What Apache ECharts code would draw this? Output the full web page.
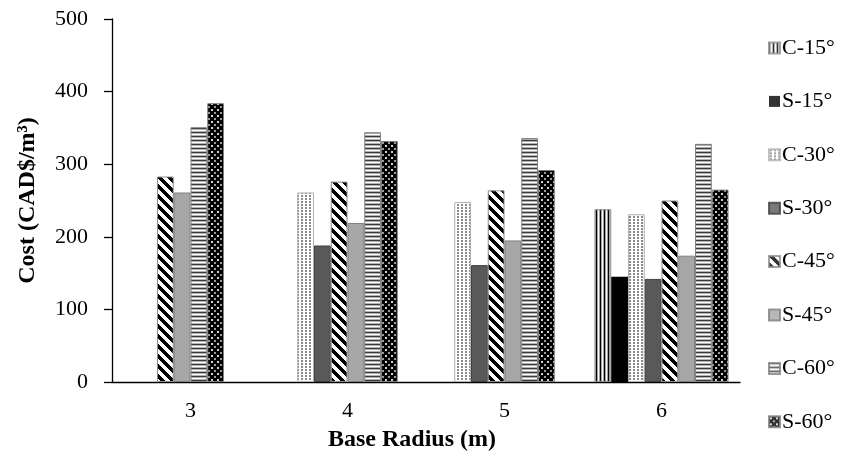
<!DOCTYPE html>
<html>
<head>
<meta charset="utf-8">
<script src="https://cdn.jsdelivr.net/npm/echarts@6/dist/echarts.min.js"></script>
<style>
html,body{margin:0;padding:0;background:#fff;}
#chart{width:865px;height:470px;}
</style>
</head>
<body>
<div id="chart"></div>
<script>
// ---- Data ----
var categories = ['3', '4', '5', '6'];
var seriesNames = ['C-15°', 'S-15°', 'C-30°', 'S-30°', 'C-45°', 'S-45°', 'C-60°', 'S-60°'];
var c15 = [null, null, null, 238];
var s15 = [null, null, null, 145];
var c30 = [null, 261, 248, 231];
var s30 = [null, 188, 161, 142];
var c45 = [283, 276, 264, 250];
var s45 = [261, 219, 195, 174];
var c60 = [351, 344, 336, 328];
var s60 = [384, 332, 292, 265];
var yTicks = [0, 100, 200, 300, 400, 500];

var seriesValues = [c15, s15, c30, s30, c45, s45, c60, s60];

// ---- Patterns ----
function tile(w, h, painter) {
  var c = document.createElement('canvas');
  c.width = w; c.height = h;
  var ctx = c.getContext('2d');
  painter(ctx, w, h);
  return { image: c, repeat: 'repeat' };
}
function px(ctx, x, y, col, w, h) { ctx.fillStyle = col; ctx.fillRect(x, y, w || 1, h || 1); }

var patC15 = tile(4, 1, function (ctx) {
  px(ctx, 0, 0, '#000'); px(ctx, 1, 0, '#a0a0a0'); px(ctx, 2, 0, '#ffffff'); px(ctx, 3, 0, '#a0a0a0');
});
var patC30 = tile(4, 3, function (ctx) {
  px(ctx, 0, 0, '#ffffff', 4, 3);
  px(ctx, 1, 0, '#8a8a8a', 2, 2);
});
var patC45 = tile(10, 10, function (ctx) {
  for (var y = 0; y < 10; y++) for (var x = 0; x < 10; x++) {
    var d = ((x - y) % 10 + 10) % 10;
    px(ctx, x, y, d < 5 ? '#000' : '#fff');
  }
});
var patC60 = tile(1, 4, function (ctx) {
  px(ctx, 0, 0, '#3a3a3a'); px(ctx, 0, 1, '#b0b0b0'); px(ctx, 0, 2, '#ffffff'); px(ctx, 0, 3, '#b0b0b0');
});
var patS60 = tile(6, 6, function (ctx) {
  px(ctx, 0, 0, '#000', 6, 6);
  px(ctx, 1, 1, '#d0d0d0', 2, 2);
  px(ctx, 4, 4, '#9a9a9a', 2, 2);
});

var styles = [
  { color: patC15, borderColor: '#8c8c8c', borderWidth: 1 },
  { color: '#000000', borderColor: '#000000', borderWidth: 0 },
  { color: patC30, borderColor: '#b0b0b0', borderWidth: 1 },
  { color: '#595959', borderColor: '#404040', borderWidth: 1 },
  { color: patC45, borderColor: '#8c8c8c', borderWidth: 1 },
  { color: '#a6a6a6', borderColor: '#808080', borderWidth: 1 },
  { color: patC60, borderColor: '#808080', borderWidth: 1 },
  { color: patS60, borderColor: '#7f7f7f', borderWidth: 1 }
];

// Build slot series: bars of each category are centred within the group.
var nSlots = seriesNames.length;
var slotData = [];
for (var s = 0; s < nSlots; s++) slotData.push(categories.map(function () { return null; }));
categories.forEach(function (cat, ci) {
  var present = [];
  seriesValues.forEach(function (arr, si) { if (arr[ci] != null) present.push(si); });
  var offset = Math.floor((nSlots - present.length) / 2);
  present.forEach(function (si, k) {
    slotData[offset + k][ci] = { value: seriesValues[si][ci], itemStyle: styles[si] };
  });
});

var serif = 'Liberation Serif';
var series = [];
slotData.forEach(function (d, k) {
  series.push({
    type: 'bar', name: 'slot' + k, data: d,
    barGap: '0%', barCategoryGap: '14.6%',
    silent: true
  });
});
// Legend entries (no marks)
seriesNames.forEach(function (n, si) {
  series.push({ type: 'scatter', name: n, data: [], itemStyle: styles[si] });
});

var chart = echarts.init(document.getElementById('chart'), null, { renderer: 'canvas' });
chart.setOption({
  animation: false,
  backgroundColor: '#ffffff',
  grid: { left: 112, right: 125, top: 19, bottom: 88, containLabel: false },
  legend: {
    data: seriesNames,
    orient: 'vertical',
    left: 763, top: 32,
    icon: 'rect',
    itemWidth: 11, itemHeight: 11,
    itemGap: 31.4,
    selectedMode: false,
    textStyle: { fontFamily: serif, fontSize: 22, color: '#000', lineHeight: 22, padding: [0, 0, 0, -3] }
  },
  xAxis: {
    type: 'category',
    data: categories,
    axisLine: { lineStyle: { color: '#000', width: 1.3 } },
    axisTick: { show: false },
    axisLabel: { fontFamily: serif, fontSize: 22, color: '#000', margin: 18 },
    name: 'Base Radius (m)',
    nameLocation: 'middle',
    nameGap: 46,
    nameTextStyle: { fontFamily: serif, fontSize: 24, fontWeight: 'bold', color: '#000', padding: [0, 28, 0, 0] }
  },
  yAxis: {
    type: 'value',
    min: yTicks[0], max: yTicks[yTicks.length - 1], interval: 100,
    splitLine: { show: false },
    axisLine: { show: true, lineStyle: { color: '#000', width: 1.3 } },
    axisTick: { show: true, length: 8, lineStyle: { color: '#000', width: 1.3 } },
    axisLabel: { fontFamily: serif, fontSize: 22, color: '#000', margin: 24 },
    name: 'Cost (CAD$/m³)',
    nameLocation: 'middle',
    nameGap: 72,
    nameRotate: 90,
    nameTextStyle: { fontFamily: serif, fontSize: 24, fontWeight: 'bold', color: '#000' }
  },
  series: series
});
</script>
</body>
</html>
